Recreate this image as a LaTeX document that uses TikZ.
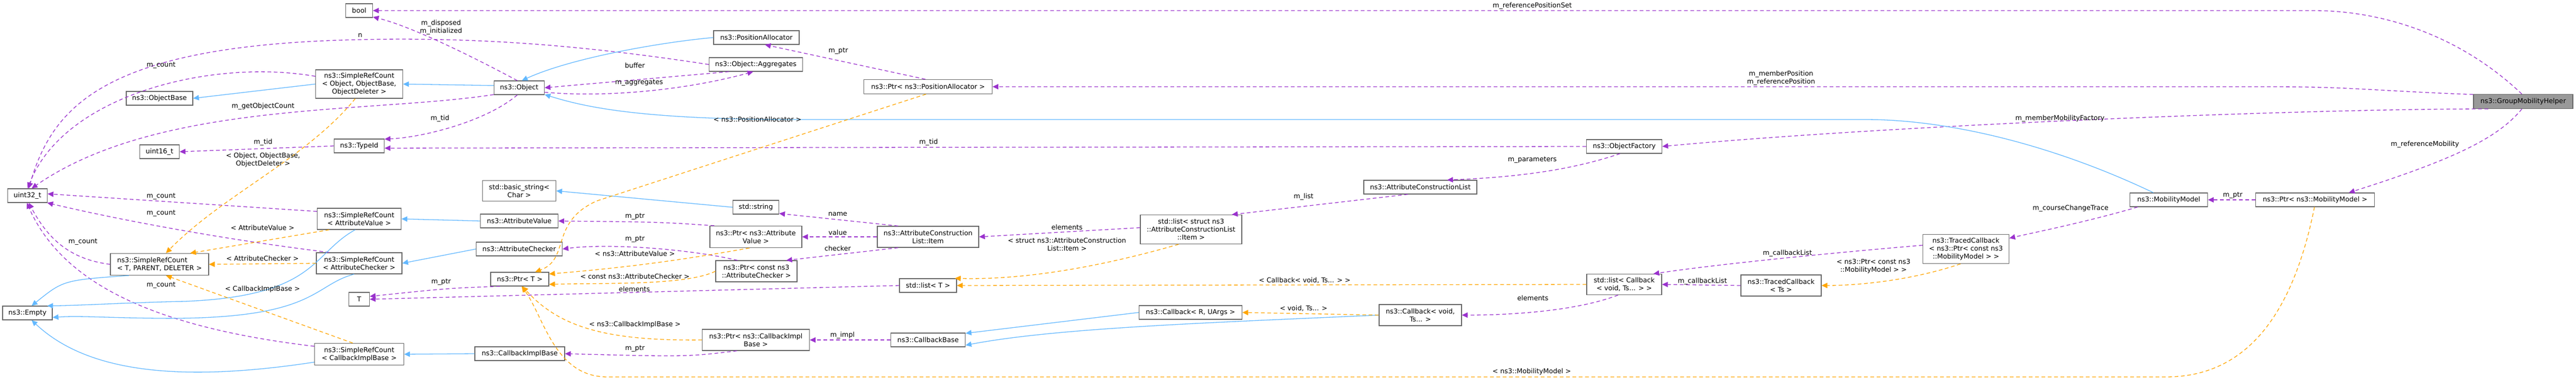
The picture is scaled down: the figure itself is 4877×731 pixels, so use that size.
\documentclass[tikz,border=0pt]{standalone}
\usepackage{fontspec}
\setmainfont{DejaVu Sans}
\usetikzlibrary{arrows.meta}
\definecolor{pu}{HTML}{9A32CD}
\definecolor{bl}{HTML}{63B8FF}
\definecolor{orx}{HTML}{FFA500}
\tikzset{
 box/.style={draw=black!60,line width=1.2pt,fill=white,inner sep=0pt,align=center,font=\fontsize{12.7}{15}\selectfont},
 lbl/.style={inner sep=0pt,align=center,font=\fontsize{12.7}{15}\selectfont},
 tip/.style={-{Triangle[width=10pt,length=11pt]}},
 pe/.style={tip,draw=pu,line width=1.3pt,dash pattern=on 7pt off 5pt},
 be/.style={tip,draw=bl,line width=1.3pt},
 oe/.style={tip,draw=orx,line width=1.3pt,dash pattern=on 7pt off 5pt},
}
\newcommand{\nd}[6]{\node[box,minimum width=#4,minimum height=#5] (#1) at (#2,#3) {#6};}
\begin{document}
\begin{tikzpicture}[x=1pt,y=-1pt]
\useasboundingbox (0,0) rectangle (4877,731);
% nodes
\nd{bool}{680}{20}{51}{26}{bool}
\nd{srcObj}{680}{159}{165}{54}{ns3::SimpleRefCount\\< Object, ObjectBase,\\ObjectDeleter >}
\nd{objbase}{302}{186}{126}{26}{ns3::ObjectBase}
\nd{object}{983}{166}{95}{26}{ns3::Object}
\nd{typeid}{680}{276}{95}{26}{ns3::TypeId}
\nd{uint16}{302}{287}{75}{26}{uint16\_t}
\nd{uint32}{52}{370}{75}{26}{uint32\_t}
\nd{basicstr}{983}{361}{139}{39}{std::basic\_string<\\Char >}
\nd{srcAV}{680}{414}{159}{40}{ns3::SimpleRefCount\\< AttributeValue >}
\nd{attrval}{983}{418}{147}{26}{ns3::AttributeValue}
\nd{attrchk}{983}{471}{163}{26}{ns3::AttributeChecker}
\node[box,align=left,minimum width=186,minimum height=41] (srcTPD) at (302,500) {ns3::SimpleRefCount\\< T, PARENT, DELETER >};
\nd{srcAC}{680}{498}{162}{40}{ns3::SimpleRefCount\\< AttributeChecker >}
\nd{ptrT}{984}{528}{110}{26}{ns3::Ptr< T >}
\nd{T}{680}{566}{39}{26}{T}
\nd{empty}{52}{592}{94}{26}{ns3::Empty}
\nd{srcCIB}{680}{670}{169}{41}{ns3::SimpleRefCount\\< CallbackImplBase >}
\nd{cib}{984}{669}{170}{26}{ns3::CallbackImplBase}
\nd{posalloc}{1432}{71}{162}{26}{ns3::PositionAllocator}
\nd{aggr}{1431}{122}{177}{26}{ns3::Object::Aggregates}
\nd{ptrPA}{1757}{164}{243}{27}{ns3::Ptr< ns3::PositionAllocator >}
\nd{stdstring}{1431}{392}{87}{26}{std::string}
\nd{ptrAV}{1431}{448}{174}{41}{ns3::Ptr< ns3::Attribute\\Value >}
\nd{item}{1757}{448}{192}{40}{ns3::AttributeConstruction\\List::Item}
\nd{ptrAC}{1432}{513}{154}{40}{ns3::Ptr< const ns3\\::AttributeChecker >}
\nd{listT}{1757}{540}{108}{26}{std::list< T >}
\nd{ptrCIB}{1431}{643}{203}{40}{ns3::Ptr< ns3::CallbackImpl\\Base >}
\nd{cbbase}{1757}{643}{141}{26}{ns3::CallbackBase}
\nd{objfac}{3075}{277}{143}{26}{ns3::ObjectFactory}
\nd{acl}{2689}{354}{214}{26}{ns3::AttributeConstructionList}
\nd{listItem}{2255}{434}{192}{55}{std::list< struct ns3\\::AttributeConstructionList\\::Item >}
\nd{listCb}{3075}{538}{142}{39}{std::list< Callback\\< void, Ts... > >}
\nd{cbRU}{2254}{591}{195}{26}{ns3::Callback< R, UArgs >}
\nd{cbVoid}{2689}{596}{156}{40}{ns3::Callback< void,\\Ts... >}
\nd{tcPtr}{3722}{471}{163}{55}{ns3::TracedCallback\\< ns3::Ptr< const ns3\\::MobilityModel > >}
\nd{tcTs}{3372}{540}{152}{40}{ns3::TracedCallback\\< Ts >}
\node[box,fill=black!40,minimum width=188,minimum height=27] (gmh) at (4777,192) {ns3::GroupMobilityHelper};
\nd{mm}{4106}{378}{147}{26}{ns3::MobilityModel}
\nd{ptrMM}{4383}{378}{225}{26}{ns3::Ptr< ns3::MobilityModel >}
% purple edges
\draw[pe] (gmh.100) .. controls (4650,60) and (4500,20) .. (4380,20) -- (bool.east);
\draw[pe] (object.105) .. controls (900,110) and (780,50) .. (bool.-25);
\draw[pe] (aggr.west) .. controls (1100,85) and (900,70) .. (680,75) .. controls (200,85) and (100,200) .. (uint32.80);
\draw[pe] (srcObj.170) .. controls (400,110) and (120,180) .. (uint32.88);
\draw[pe] (object.195) .. controls (700,215) and (300,190) .. (uint32.60);
\draw[pe] (aggr.195) -- (object.east);
\draw[pe] (object.-10) .. controls (1150,185) and (1300,170) .. (aggr.250);
\draw[pe] (object.-105) .. controls (920,230) and (800,260) .. (typeid.15);
\draw[pe] (typeid.west) -- (uint16.east);
\draw[pe] (objfac.west) -- (typeid.-5);
\draw[pe] (ptrPA.110) -- (posalloc.-40);
\draw[pe] (gmh.172) .. controls (4500,172) and (4450,164) .. (4300,164) -- (ptrPA.east);
\draw[pe] (gmh.192) .. controls (4400,205) and (3600,235) .. (objfac.east);
\draw[pe] (gmh.-100) .. controls (4730,260) and (4650,300) .. (ptrMM.12);
\draw[pe] (ptrMM.west) -- (mm.east);
\draw[pe] (mm.-167) .. controls (3950,420) and (3850,440) .. (tcPtr.14);
\draw[pe] (tcPtr.175) .. controls (3450,480) and (3250,500) .. (listCb.20);
\draw[pe] (tcTs.west) -- (listCb.east);
\draw[pe] (listCb.-120) .. controls (2980,590) and (2850,596) .. (cbVoid.east);
\draw[pe] (objfac.-120) .. controls (2980,320) and (2880,335) .. (acl.15);
\draw[pe] (acl.-150) -- (listItem.20);
\draw[pe] (listItem.178) -- (item.east);
\draw[pe] (item.160) -- (stdstring.-15);
\draw[pe] (item.west) -- (ptrAV.east);
\draw[pe] (item.200) -- (ptrAC.20);
\draw[pe] (ptrAV.165) .. controls (1250,420) .. (attrval.east);
\draw[pe] (ptrAC.150) .. controls (1300,470) and (1150,460) .. (attrchk.east);
\draw[pe] (ptrT.200) .. controls (850,545) .. (T.15);
\draw[pe] (listT.west) -- (T.east);
\draw[pe] (srcAV.170) -- (uint32.5);
\draw[pe] (srcAC.160) .. controls (400,450) and (200,410) .. (uint32.-20);
\draw[pe] (srcTPD.west) .. controls (130,490) and (90,450) .. (uint32.-80);
\draw[pe] (srcCIB.170) .. controls (300,620) and (120,540) .. (uint32.-95);
\draw[pe] (ptrCIB.-150) .. controls (1300,675) .. (cib.east);
\draw[pe] (cbbase.west) -- (ptrCIB.east);
% blue edges
\draw[be] (srcObj.west) -- (objbase.east);
\draw[be] (object.175) -- (srcObj.east);
\draw[be] (posalloc.west) .. controls (1250,80) and (1080,110) .. (object.70);
\draw[be] (mm.155) .. controls (3900,280) and (3700,226) .. (3530,226) -- (1500,226) .. controls (1200,226) and (1100,200) .. (object.-15);
\draw[be] (stdstring.west) -- (basicstr.east);
\draw[be] (attrval.west) -- (srcAV.east);
\draw[be] (attrchk.west) -- (srcAC.east);
\draw[be] (cib.west) -- (srcCIB.east);
\draw[be] (srcTPD.200) .. controls (120,530) .. (empty.60);
\draw[be] (srcAV.-110) .. controls (590,480) and (600,560) .. (350,570) .. controls (250,572) and (150,578) .. (empty.20);
\draw[be] (srcAC.-115) .. controls (590,540) and (600,605) .. (300,602) .. controls (200,601) and (150,597) .. (empty.-10);
\draw[be] (srcCIB.190) .. controls (300,730) and (150,690) .. (empty.-60);
\draw[be] (cbRU.west) -- (cbbase.10);
\draw[be] (cbVoid.west) .. controls (2300,610) and (2000,620) .. (cbbase.-8);
% orange edges
\draw[oe] (srcObj.-105) .. controls (580,300) and (420,370) .. (srcTPD.60);
\draw[oe] (srcAV.200) -- (srcTPD.20);
\draw[oe] (srcAC.west) -- (srcTPD.east);
\draw[oe] (srcCIB.120) -- (srcTPD.-60);
\draw[oe] (ptrPA.-105) -- (1130,380) .. controls (1040,420) and (1080,490) .. (ptrT.25);
\draw[oe] (ptrAV.-120) .. controls (1300,490) and (1200,505) .. (ptrT.10);
\draw[oe] (ptrAC.west) .. controls (1300,540) and (1150,535) .. (ptrT.-10);
\draw[oe] (ptrCIB.west) .. controls (1150,645) and (1060,620) .. (ptrT.-70);
\draw[oe] (ptrMM.-95) .. controls (4340,600) and (4250,713) .. (4100,713) -- (1150,713) .. controls (1050,713) and (1030,600) .. (ptrT.-75);
\draw[oe] (listItem.-130) .. controls (2100,500) and (1950,530) .. (listT.15);
\draw[oe] (listCb.west) -- (listT.east);
\draw[oe] (cbVoid.west) -- (cbRU.east);
\draw[oe] (tcPtr.-110) .. controls (3620,530) and (3520,540) .. (tcTs.east);
% labels
\node[lbl] (l1) at (2901,11) {m\_referencePositionSet};
\node[lbl] (l2) at (835,52) {m\_disposed\\m\_initialized};
\node[lbl] (l3) at (682,67) {n};
\node[lbl] (l4) at (305,124) {m\_count};
\node[lbl] (l5) at (498,201) {m\_getObjectCount};
\node[lbl] (l6) at (1202,124) {buffer};
\node[lbl] (l7) at (1210,157) {m\_aggregates};
\node[lbl] (l8) at (833,224) {m\_tid};
\node[lbl] (l9) at (498,269) {m\_tid};
\node[lbl] (l10) at (498,302) {< Object, ObjectBase,\\ObjectDeleter >};
\node[lbl] (l11) at (1758,269) {m\_tid};
\node[lbl] (l12) at (1587,97) {m\_ptr};
\node[lbl] (l13) at (3372,148) {m\_memberPosition\\m\_referencePosition};
\node[lbl] (l14) at (3900,224) {m\_memberMobilityFactory};
\node[lbl] (l15) at (4591,273) {m\_referenceMobility};
\node[lbl] (l16) at (4227,370) {m\_ptr};
\node[lbl] (l17) at (3920,394) {m\_courseChangeTrace};
\node[lbl] (l18) at (3384,479) {m\_callbackList};
\node[lbl] (l19) at (3223,532) {m\_callbackList};
\node[lbl] (l20) at (3547,504) {< ns3::Ptr< const ns3\\::MobilityModel > >};
\node[lbl] (l21) at (2902,564) {elements};
\node[lbl] (l22) at (2901,303) {m\_parameters};
\node[lbl] (l23) at (2468,372) {m\_list};
\node[lbl] (l24) at (2020,430) {elements};
\node[lbl] (l25) at (2020,462) {< struct ns3::AttributeConstruction\\List::Item >};
\node[lbl] (l26) at (2470,530) {< Callback< void, Ts... > >};
\node[lbl] (l27) at (2468,583) {< void, Ts... >};
\node[lbl] (l28) at (1586,405) {name};
\node[lbl] (l29) at (1586,440) {value};
\node[lbl] (l30) at (1586,470) {checker};
\node[lbl] (l31) at (1202,410) {m\_ptr};
\node[lbl] (l32) at (1202,453) {m\_ptr};
\node[lbl] (l33) at (1202,480) {< ns3::AttributeValue >};
\node[lbl] (l34) at (1202,523) {< const ns3::AttributeChecker >};
\node[lbl] (l35) at (1201,547) {elements};
\node[lbl] (l36) at (1202,614) {< ns3::CallbackImplBase >};
\node[lbl] (l37) at (1202,660) {m\_ptr};
\node[lbl] (l38) at (1595,634) {m\_impl};
\node[lbl] (l39) at (835,534) {m\_ptr};
\node[lbl] (l40) at (1434,226) {< ns3::PositionAllocator >};
\node[lbl] (l41) at (2900,703) {< ns3::MobilityModel >};
\node[lbl] (l42) at (305,372) {m\_count};
\node[lbl] (l43) at (305,404) {m\_count};
\node[lbl] (l44) at (157,458) {m\_count};
\node[lbl] (l45) at (305,540) {m\_count};
\node[lbl] (l46) at (497,431) {< AttributeValue >};
\node[lbl] (l47) at (497,489) {< AttributeChecker >};
\node[lbl] (l48) at (497,547) {< CallbackImplBase >};
\end{tikzpicture}
\end{document}
